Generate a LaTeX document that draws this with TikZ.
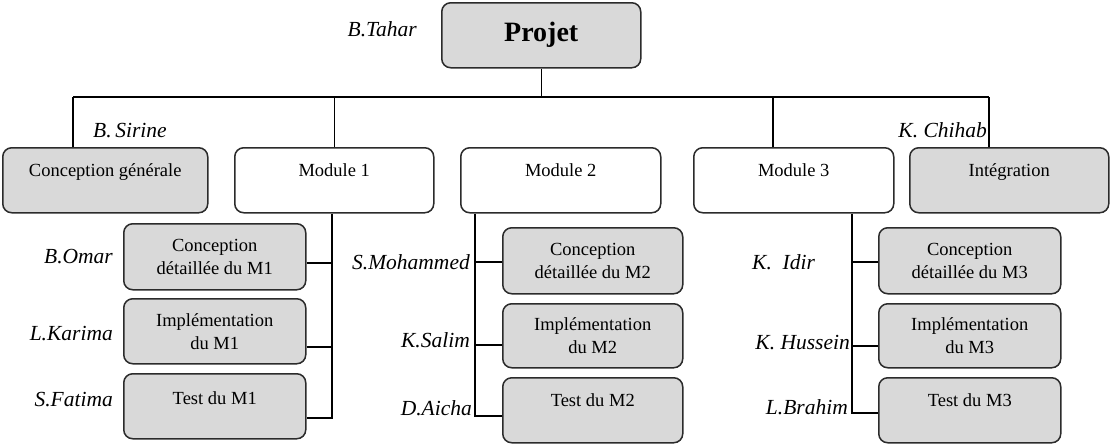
\documentclass[tikz,border=0pt]{standalone}
\usepackage{fontspec}
\setmainfont{Liberation Serif}
\definecolor{boxgray}{HTML}{D9D9D9}
\definecolor{edge}{HTML}{2B2B2B}
\begin{document}
\begin{tikzpicture}[x=1pt,y=-1pt,
  box/.style={draw=edge, line width=1.5pt, rounded corners=9pt, inner sep=0pt,
    align=center, anchor=north west, font=\fontsize{18.5}{23}\selectfont},
  grey/.style={box, fill=boxgray},
  plain/.style={box, fill=white},
  who/.style={font=\fontsize{21.5}{25}\selectfont\itshape, inner sep=0pt},
  link/.style={line width=1.5pt, draw=black},
]
\useasboundingbox (0,0) rectangle (1110,445);

% root
\node[grey, minimum width=199, minimum height=65,
      font=\fontsize{28}{32}\selectfont\bfseries] (proj) at (441,2) {Projet};
\node[who, anchor=east] (tahar) at (417,29) {B.Tahar};

% first level
\tikzset{toprow/.style={minimum height=65, text height=29pt, text depth=36pt}}
\node[grey,  toprow, minimum width=205] (cg)    at (2,147)   {Conception générale};
\node[plain, toprow, minimum width=199] (mod1)  at (234,147) {Module 1};
\node[plain, toprow, minimum width=200] (mod2)  at (460,147) {Module 2};
\node[plain, toprow, minimum width=200] (mod3)  at (693,147) {Module 3};
\node[grey,  toprow, minimum width=199] (integ) at (909,147) {Intégration};
\node[who, anchor=west] (sirine) at (93,131)  {B.\,Sirine};
\node[who, anchor=east] (chihab) at (987,130) {K. Chihab};

% bus
\coordinate (busL) at (73,97);
\coordinate (busR) at (989,97);
\coordinate (d3)   at (773,97);
\draw[link] (proj.south) -- (proj.south |- busL);
\draw[link] (busL) -- (busR);
\draw[link] (busL) -- (busL |- cg.north);
\draw[link] (mod1.north) -- (mod1.north |- busL);
\draw[link] (d3) -- (d3 |- mod3.north);
\draw[link] (busR) -- (busR |- integ.north);

% Module 1 work packages
\node[grey, minimum width=182, minimum height=66] (c1) at (123,223) {Conception\\détaillée du M1};
\node[grey, minimum width=182, minimum height=65] (i1) at (123,298) {Implémentation\\du M1};
\node[grey, minimum width=182, minimum height=65, text height=31pt, text depth=34pt] (t1) at (123,373) {Test du M1};
\node[who, anchor=east] (omar)   at (113,257) {B.Omar};
\node[who, anchor=east] (karima) at (113,334) {L.Karima};
\node[who, anchor=east] (fatima) at (113,400) {S.Fatima};
\coordinate (e1) at (332,418);
\draw[link] (mod1.south -| e1) -- (e1) -- (t1.east |- e1);
\path ([yshift=-6pt]c1.east) coordinate (c1s) ([yshift=-15.5pt]i1.east) coordinate (i1s);
\draw[link] (c1s) -- (c1s -| e1);
\draw[link] (i1s) -- (i1s -| e1);

% Module 2 work packages
\node[grey, minimum width=180, minimum height=66] (c2) at (502,227) {Conception\\détaillée du M2};
\node[grey, minimum width=180, minimum height=64] (i2) at (502,303) {Implémentation\\du M2};
\node[grey, minimum width=180, minimum height=65, text height=29pt, text depth=36pt] (t2) at (502,377) {Test du M2};
\node[who, anchor=east] (mohammed) at (470,262) {S.Mohammed};
\node[who, anchor=east] (salim)    at (470,340) {K.Salim};
\node[who, anchor=east] (aicha)    at (472,408) {D.Aicha};
\coordinate (e2) at (475,416);
\draw[link] (mod2.south -| e2) -- (e2) -- (t2.west |- e2);
\path ([yshift=-1pt]c2.west) coordinate (c2s) ([yshift=-9pt]i2.west) coordinate (i2s);
\draw[link] (c2s) -- (c2s -| e2);
\draw[link] (i2s) -- (i2s -| e2);

% Module 3 work packages
\node[grey, minimum width=182, minimum height=66] (c3) at (878,227) {Conception\\détaillée du M3};
\node[grey, minimum width=182, minimum height=64] (i3) at (878,303) {Implémentation\\du M3};
\node[grey, minimum width=182, minimum height=65, text height=29pt, text depth=36pt] (t3) at (878,377) {Test du M3};
\node[who, anchor=west] (idir)    at (752,262) {K.\ \ Idir};
\node[who, anchor=east] (hussein) at (850,343) {K. Hussein};
\node[who, anchor=east] (brahim)  at (848,407) {L.Brahim};
\coordinate (e3) at (852,413);
\draw[link] (mod3.south -| e3) -- (e3) -- (t3.west |- e3);
\path ([yshift=-1pt]c3.west) coordinate (c3s) ([yshift=-10pt]i3.west) coordinate (i3s);
\draw[link] (c3s) -- (c3s -| e3);
\draw[link] (i3s) -- (i3s -| e3);
\end{tikzpicture}
\end{document}
